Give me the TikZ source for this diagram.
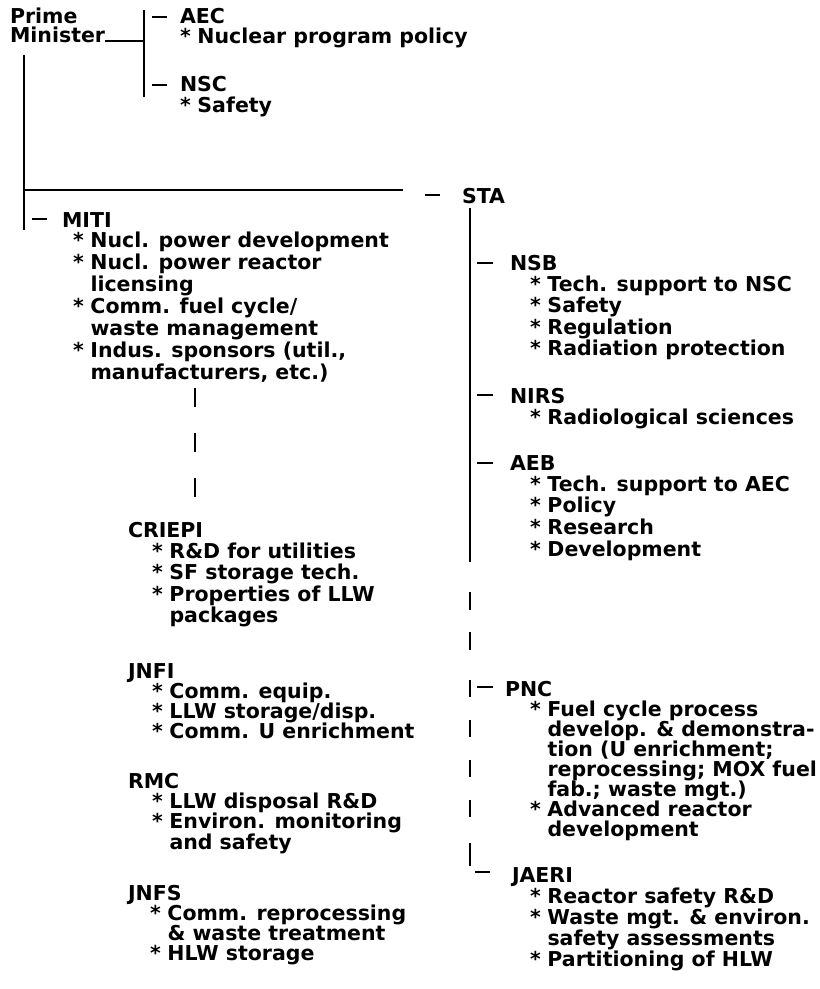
\documentclass[tikz,border=0pt]{standalone}
\usepackage{fontspec}
\setmainfont{DejaVu Sans}
\newcommand\myblk[2]{\vtop{\baselineskip=#1pt\lineskiplimit=-\maxdimen\lineskip=0pt #2}}
\newcommand\myitem[1]{\hbox{\makebox[17.5pt][l]{*}#1}}
\newcommand\mycont[1]{\hbox{\hskip17.5pt #1}}
\newcommand\myline[1]{\hbox{#1}}
\tikzset{
  txt/.style={inner sep=0pt, outer sep=0pt, anchor=base west, font=\bfseries\fontsize{20.5}{21.5}\selectfont},
  ln/.style={line width=2.6pt},
  dashln/.style={line width=2.4pt}
}
\begin{document}
\begin{tikzpicture}[x=1pt,y=-1pt]
\useasboundingbox (0,0) rectangle (820,989);

% ---------- text nodes ----------
\node[txt] (pm) at (10,23) {\myblk{19.5}{\myline{Prime}\myline{Minister}}};
\node[txt] (aec) at (180,23) {AEC};
\node[txt] (aecitems) at (180,43) {\myblk{21}{\myitem{Nuclear program policy}}};
\node[txt] (nsc) at (180,91) {NSC};
\node[txt] (nscitems) at (180,112) {\myblk{21}{\myitem{Safety}}};
\node[txt] (sta) at (462,203) {STA};

\node[txt] (miti) at (62,227) {MITI};
\node[txt] (mitiitems) at (73,247) {\myblk{22}{%
  \myitem{Nucl. power development}
  \myitem{Nucl. power reactor}
  \mycont{licensing}
  \myitem{Comm. fuel cycle/}
  \mycont{waste management}
  \myitem{Indus. sponsors (util.,}
  \mycont{manufacturers, etc.)}}};

\node[txt] (criepi) at (128,537) {CRIEPI};
\node[txt] (criepiitems) at (152,558) {\myblk{21.5}{%
  \myitem{R\&D for utilities}
  \myitem{SF storage tech.}
  \myitem{Properties of LLW}
  \mycont{packages}}};

\node[txt] (jnfi) at (128,678) {JNFI};
\node[txt] (jnfiitems) at (152,698) {\myblk{20.3}{%
  \myitem{Comm. equip.}
  \myitem{LLW storage/disp.}
  \myitem{Comm. U enrichment}}};

\node[txt] (rmc) at (128,788) {RMC};
\node[txt] (rmcitems) at (152,808) {\myblk{20.5}{%
  \myitem{LLW disposal R\&D}
  \myitem{Environ. monitoring}
  \mycont{and safety}}};

\node[txt] (jnfs) at (128,900) {JNFS};
\node[txt] (jnfsitems) at (150,920) {\myblk{20.3}{%
  \myitem{Comm. reprocessing}
  \mycont{\& waste treatment}
  \myitem{HLW storage}}};

\node[txt] (nsb) at (510,270) {NSB};
\node[txt] (nsbitems) at (530,291) {\myblk{21.6}{%
  \myitem{Tech. support to NSC}
  \myitem{Safety}
  \myitem{Regulation}
  \myitem{Radiation protection}}};

\node[txt] (nirs) at (510,403) {NIRS};
\node[txt] (nirsitems) at (530,424) {\myblk{21.5}{%
  \myitem{Radiological sciences}}};

\node[txt] (aeb) at (510,470) {AEB};
\node[txt] (aebitems) at (530,491) {\myblk{21.8}{%
  \myitem{Tech. support to AEC}
  \myitem{Policy}
  \myitem{Research}
  \myitem{Development}}};

\node[txt] (pnc) at (505,696) {PNC};
\node[txt] (pncitems) at (530,716) {\myblk{20}{%
  \myitem{Fuel cycle process}
  \mycont{develop. \& demonstra-}
  \mycont{tion (U enrichment;}
  \mycont{reprocessing; MOX fuel}
  \mycont{fab.; waste mgt.)}
  \myitem{Advanced reactor}
  \mycont{development}}};

\node[txt] (jaeri) at (512,882) {JAERI};
\node[txt] (jaeriitems) at (530,903) {\myblk{21.3}{%
  \myitem{Reactor safety R\&D}
  \myitem{Waste mgt. \& environ.}
  \mycont{safety assessments}
  \myitem{Partitioning of HLW}}};

% ---------- connector coordinates ----------
\coordinate (b1t) at (144,10);
\coordinate (b1m) at (144,41);
\coordinate (b1b) at (144,97);
\coordinate (aecd1) at (152,17);  \coordinate (aecd2) at (167,17);
\coordinate (nscd1) at (152,85);  \coordinate (nscd2) at (167,85);
\coordinate (pmtop) at (24,55);
\coordinate (pmmid) at (24,190);
\coordinate (pmbot) at (24,230);
\coordinate (hend) at (403,190);
\coordinate (stad1) at (425,195); \coordinate (stad2) at (440,195);
\coordinate (mitid1) at (32,219); \coordinate (mitid2) at (47,219);
\coordinate (lv1) at (195,388);   \coordinate (lv2) at (195,497);
\coordinate (stav1) at (470,208); \coordinate (stav2) at (470,562);
\coordinate (nsbd1) at (477,263); \coordinate (nsbd2) at (493,263);
\coordinate (nirsd1) at (477,395); \coordinate (nirsd2) at (493,395);
\coordinate (aebd1) at (477,463); \coordinate (aebd2) at (493,463);
\coordinate (pncd1) at (477,687); \coordinate (pncd2) at (493,687);
\coordinate (jaerid1) at (475,872); \coordinate (jaerid2) at (490,872);
\coordinate (r1a) at (470,592); \coordinate (r1b) at (470,610);
\coordinate (r2a) at (470,632); \coordinate (r2b) at (470,650);
\coordinate (r3a) at (470,680); \coordinate (r3b) at (470,697);
\coordinate (r4a) at (470,720); \coordinate (r4b) at (470,737);
\coordinate (r5a) at (470,760); \coordinate (r5b) at (470,777);
\coordinate (r6a) at (470,800); \coordinate (r6b) at (470,817);
\coordinate (r7a) at (470,843); \coordinate (r7b) at (470,866);

% ---------- connectors ----------
\draw[ln] (pm.east |- b1m) -- (b1m);
\draw[ln] (b1t) -- (b1b);
\draw[dashln] (aecd1) -- (aecd2);
\draw[dashln] (nscd1) -- (nscd2);
\draw[ln] (pmtop) -- (pmbot);
\draw[ln] (pmmid) -- (hend);
\draw[dashln] (stad1) -- (stad2);
\draw[dashln] (mitid1) -- (mitid2);
\draw[ln, dash pattern=on 19pt off 26pt] (lv1) -- (lv2);
\draw[ln] (stav1) -- (stav2);
\draw[dashln] (nsbd1) -- (nsbd2);
\draw[dashln] (nirsd1) -- (nirsd2);
\draw[dashln] (aebd1) -- (aebd2);
\draw[dashln] (pncd1) -- (pncd2);
\draw[dashln] (jaerid1) -- (jaerid2);
\foreach \s in {1,...,7} { \draw[ln] (r\s a) -- (r\s b); }
\end{tikzpicture}
\end{document}
